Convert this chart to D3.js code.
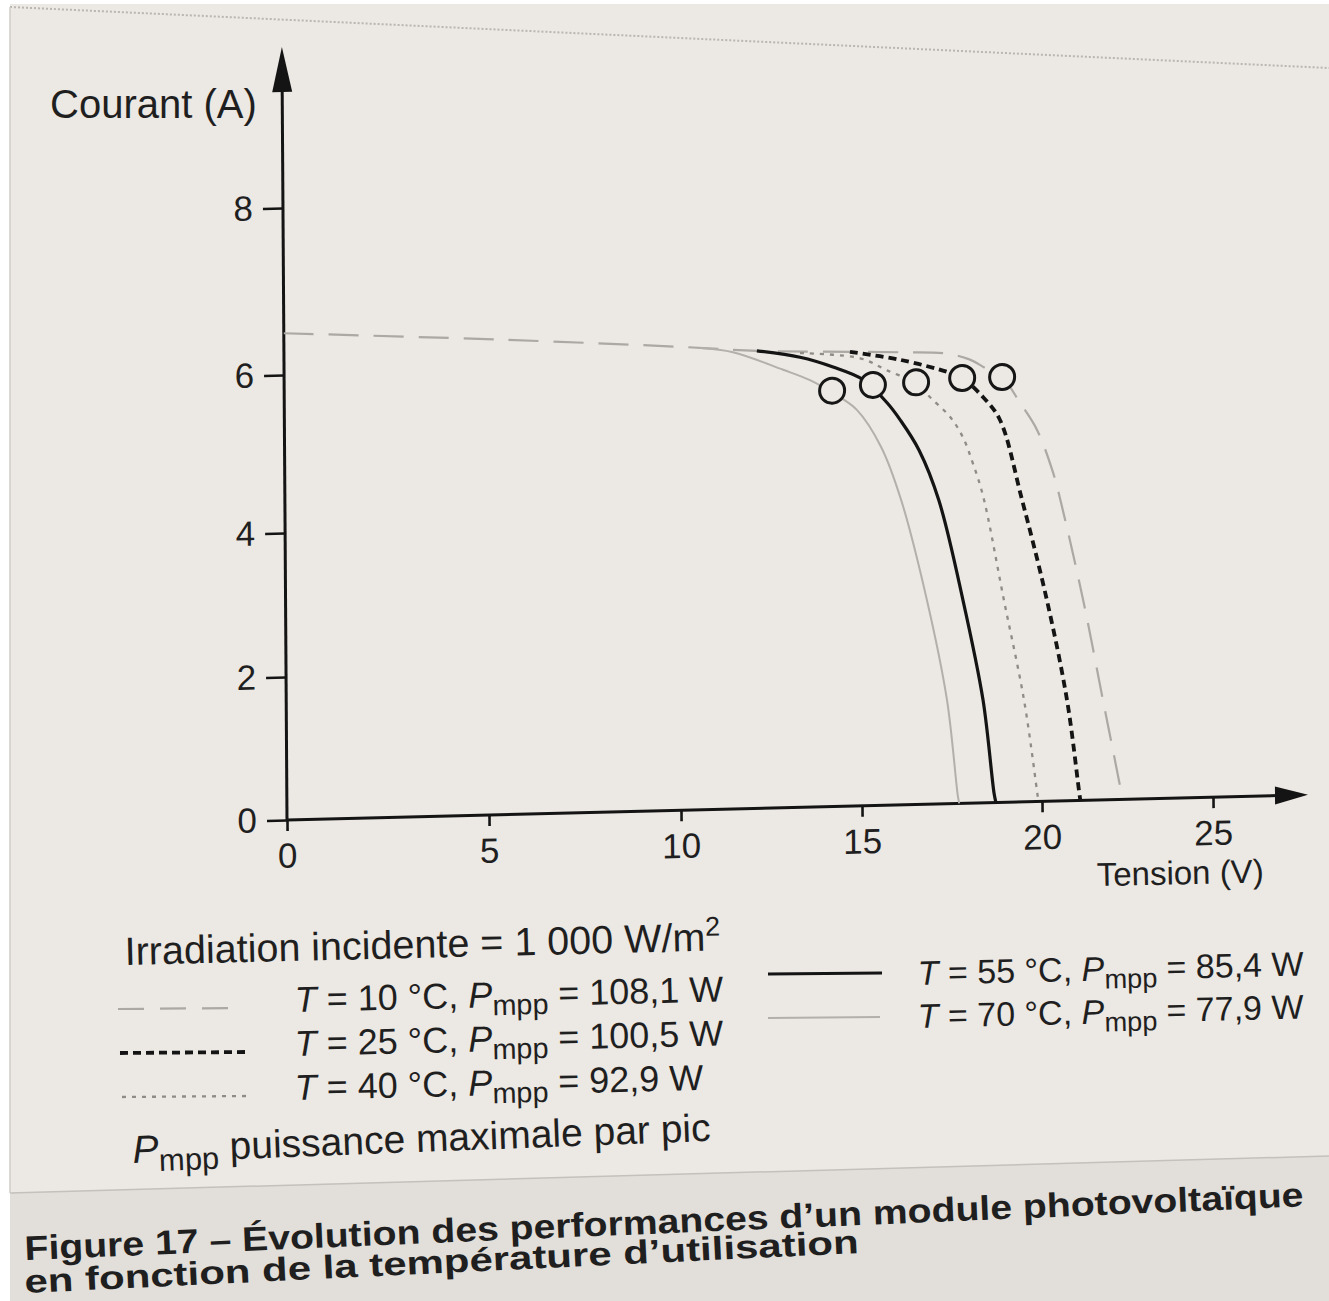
<!DOCTYPE html>
<html><head><meta charset="utf-8">
<script src="https://cdn.jsdelivr.net/npm/d3@7"></script>
<style>
body{margin:0;background:#fff}
svg{display:block}
text{font-family:"Liberation Sans",Arial,sans-serif;fill:#1f1f1f}
</style>
</head><body>
<svg id="chart" width="1329" height="1301"></svg>
<script>
// ---------- data ----------
const temperatures = [10, 25, 40, 55, 70];
const pmppLabels = ["108,1", "100,5", "92,9", "85,4", "77,9"];
const xTickValues = [0, 5, 10, 15, 20, 25];
const yTickValues = [0, 2, 4, 6, 8];

const v10 = [0, 5.37, 10.06, 12.18, 16.14, 17.44, 18.08, 18.50, 18.97, 19.46, 19.93, 20.39, 20.62, 21.24, 21.80, 22.29, 22.35];
const i10 = [6.50, 6.36, 6.22, 6.15, 6.09, 6.06, 5.98, 5.87, 5.75, 5.42, 5.07, 4.52, 4.13, 2.80, 1.40, 0.17, 0];

const v25 = [14.75, 16.14, 17.52, 17.86, 18.44, 18.90, 19.50, 20.18, 20.75, 21.08, 21.12];
const i25 = [6.11, 6.00, 5.82, 5.75, 5.50, 5.21, 4.19, 2.81, 1.41, 0.15, 0];

const v40 = [13.37, 15.03, 15.78, 16.60, 16.96, 17.52, 17.87, 18.14, 18.42, 18.98, 19.52, 19.86, 19.90];
const i40 = [6.11, 6.03, 5.87, 5.69, 5.52, 5.26, 5.00, 4.67, 4.25, 2.82, 1.42, 0.16, 0];

const v55 = [12.18, 13.37, 14.28, 15.11, 15.77, 16.13, 16.65, 17.19, 17.84, 18.38, 18.67, 18.72];
const i55 = [6.15, 6.06, 5.93, 5.76, 5.46, 5.24, 4.85, 4.21, 2.84, 1.44, 0.13, 0];

const v70 = [10.61, 11.52, 12.90, 13.64, 14.27, 14.93, 15.60, 16.14, 16.84, 17.38, 17.66, 17.70];
const i70 = [6.20, 6.14, 5.91, 5.77, 5.60, 5.38, 4.90, 4.23, 2.85, 1.45, 0.12, 0];

// maximum power points (circles), same order as temperatures
const mppV = [18.97, 17.86, 16.58, 15.38, 14.25];
const mppI = [5.75, 5.75, 5.71, 5.69, 5.63];

// ---------- styles ----------
const paper = "#ece8e3";
const styles = {
  10: {stroke: "#aca8a3", width: 2.2, dash: "30,15", legendDash: "26,16"},
  25: {stroke: "#141414", width: 3.8, dash: "8,5", legendDash: "8,5"},
  40: {stroke: "#8f8c87", width: 2.3, dash: "4,6", legendDash: "4,6"},
  55: {stroke: "#141414", width: 3.2, dash: null, legendDash: null},
  70: {stroke: "#b3afaa", width: 2, dash: null, legendDash: null}
};
const seriesV = {10: v10, 25: v25, 40: v40, 55: v55, 70: v70};
const seriesI = {10: i10, 25: i25, 40: i40, 55: i55, 70: i70};

const svg = d3.select("#chart");

// page / paper
svg.append("rect").attr("x", 10).attr("y", 4).attr("width", 1319).attr("height", 1297).attr("fill", paper);
svg.append("path").attr("d", "M10,1193 L1329,1156 L1329,1301 L10,1301 Z").attr("fill", "#e2ded9");
svg.append("path").attr("d", "M10,7 L1329,68").attr("stroke", "#b9b5b0").attr("stroke-width", 2).attr("stroke-dasharray", "2,2").attr("fill", "none");
svg.append("path").attr("d", "M10,1193 L1329,1156").attr("stroke", "#c4c0bb").attr("stroke-width", 1.5).attr("fill", "none");
svg.append("path").attr("d", "M10,7 L10,1193").attr("stroke", "#d0ccc7").attr("stroke-width", 1.5).attr("fill", "none");

// ---------- scales ----------
const x = d3.scaleLinear().domain(xTickValues).range([0, 202, 394, 575, 755, 926]);
const y = d3.scaleLinear().domain(yTickValues).range([0, -143, -287, -445, -612]);

const plot = svg.append("g")
  .attr("transform", "translate(287,820) matrix(1,-0.0247,0.0066,1,0,0)");

// axes ticks
const gx = plot.append("g").call(
  d3.axisBottom(x).tickValues(xTickValues).tickSize(11).tickPadding(12).tickFormat(d3.format("d")));
const gy = plot.append("g").call(
  d3.axisLeft(y).tickValues(yTickValues).tickSize(20).tickPadding(10).tickFormat(d3.format("d")));
[gx, gy].forEach(g => {
  g.select(".domain").remove();
  g.selectAll(".tick line").attr("stroke", "#141414").attr("stroke-width", 2.6);
  g.selectAll(".tick text").attr("fill", "#1f1f1f").style("font-size", "35px")
    .style("font-family", '"Liberation Sans",Arial,sans-serif');
});

// axis lines with arrows
plot.append("line").attr("x1", 0).attr("y1", 0).attr("x2", 0).attr("y2", -735)
  .attr("stroke", "#141414").attr("stroke-width", 3);
plot.append("path").attr("d", "M0,-773 L-10,-728 L10,-728 Z").attr("fill", "#141414");
plot.append("line").attr("x1", 0).attr("y1", 0).attr("x2", 992).attr("y2", 0)
  .attr("stroke", "#141414").attr("stroke-width", 3);
plot.append("path").attr("d", "M1021,0 L988,-9 L988,9 Z").attr("fill", "#141414");

// curves
const line = d3.line().x(d => x(d[0])).y(d => y(d[1])).curve(d3.curveCatmullRom.alpha(0.5));
temperatures.forEach(t => {
  const pts = seriesV[t].map((v, k) => [v, seriesI[t][k]]);
  const s = styles[t];
  plot.append("path").datum(pts).attr("d", line)
    .attr("fill", "none").attr("stroke", s.stroke).attr("stroke-width", s.width)
    .attr("stroke-dasharray", s.dash).attr("stroke-linejoin", "round");
});

// MPP circles
plot.selectAll("circle.mpp").data(mppV.map((v, k) => [v, mppI[k]])).join("circle")
  .attr("class", "mpp").attr("cx", d => x(d[0])).attr("cy", d => y(d[1])).attr("r", 12.5)
  .attr("fill", paper).attr("stroke", "#161616").attr("stroke-width", 3);

// axis titles
svg.append("text").attr("x", 50).attr("y", 118).style("font-size", "40px").text("Courant (A)");
svg.append("text").attr("x", 1097).attr("y", 886).attr("transform", "rotate(-1.2 1097 886)")
  .style("font-size", "33px").text("Tension (V)");

// ---------- legend ----------
const irr = svg.append("text").attr("x", 125).attr("y", 965)
  .attr("transform", "rotate(-1.4 125 965)").style("font-size", "39.5px");
irr.append("tspan").text("Irradiation incidente = 1 000 W/m");
irr.append("tspan").attr("dy", -15).style("font-size", "27px").text("2");

function legendText(xp, yp, size, t, p) {
  const tx = svg.append("text").attr("x", xp).attr("y", yp)
    .attr("transform", `rotate(-1.4 ${xp} ${yp})`).style("font-size", size + "px");
  tx.append("tspan").style("font-style", "italic").text("T");
  tx.append("tspan").text(` = ${t} °C, `);
  tx.append("tspan").style("font-style", "italic").text("P");
  tx.append("tspan").attr("dy", 8).style("font-size", (size * 0.8) + "px").text("mpp");
  tx.append("tspan").attr("dy", -8).text(` = ${p} W`);
}
const legendPos = {
  10: {sx1: 118, sx2: 242, sy: 1009, tx: 295, ty: 1012, size: 36},
  25: {sx1: 120, sx2: 248, sy: 1053, tx: 295, ty: 1056, size: 36},
  40: {sx1: 122, sx2: 248, sy: 1097, tx: 295, ty: 1100, size: 36},
  55: {sx1: 768, sx2: 882, sy: 974, tx: 918, ty: 985, size: 34},
  70: {sx1: 768, sx2: 880, sy: 1018, tx: 918, ty: 1028, size: 34}
};
temperatures.forEach((t, k) => {
  const s = styles[t], lp = legendPos[t];
  svg.append("line").attr("x1", lp.sx1).attr("x2", lp.sx2).attr("y1", lp.sy).attr("y2", lp.sy - 1)
    .attr("stroke", s.stroke).attr("stroke-width", s.width).attr("stroke-dasharray", s.legendDash);
  legendText(lp.tx, lp.ty, lp.size, t, pmppLabels[k]);
});

const note = svg.append("text").attr("x", 133).attr("y", 1163)
  .attr("transform", "rotate(-2.2 133 1163)").style("font-size", "39px");
note.append("tspan").style("font-style", "italic").text("P");
note.append("tspan").attr("dy", 9).style("font-size", "31px").text("mpp");
note.append("tspan").attr("dy", -9).text(" puissance maximale par pic");

// caption
svg.append("text").attr("x", 25).attr("y", 1260).attr("transform", "rotate(-2.4 25 1260)")
  .style("font-size", "34px").style("font-weight", "700")
  .attr("textLength", 1280).attr("lengthAdjust", "spacingAndGlyphs")
  .text("Figure 17 – Évolution des performances d’un module photovoltaïque");
svg.append("text").attr("x", 25).attr("y", 1293).attr("transform", "rotate(-2.75 25 1293)")
  .style("font-size", "33px").style("font-weight", "700")
  .attr("textLength", 835).attr("lengthAdjust", "spacingAndGlyphs")
  .text("en fonction de la température d’utilisation");
</script>
</body></html>
